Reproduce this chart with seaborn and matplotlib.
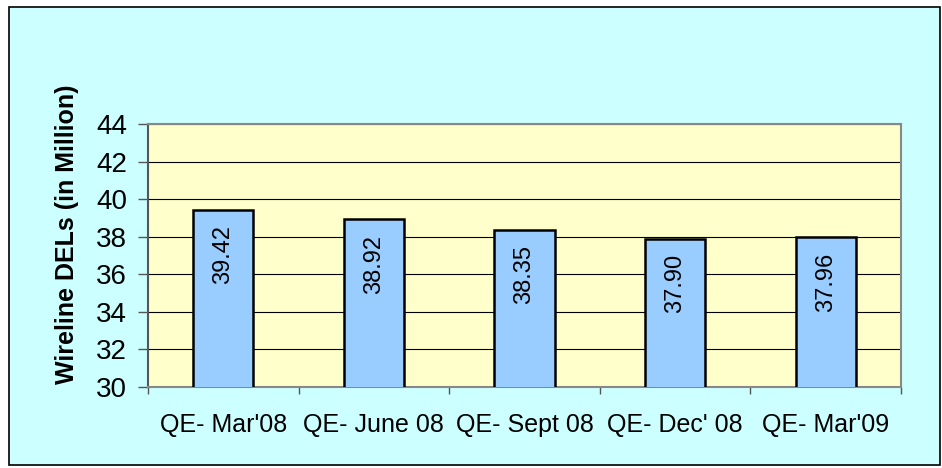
import matplotlib
matplotlib.use("Agg")
import matplotlib.pyplot as plt
from matplotlib.patches import Rectangle
import seaborn as sns
import pandas as pd

# data
quarters = ["QE- Mar'08", "QE- June 08", "QE- Sept 08", "QE- Dec' 08", "QE- Mar'09"]
dels = [39.42, 38.92, 38.35, 37.90, 37.96]
y_ticks = [30, 32, 34, 36, 38, 40, 42, 44]

df = pd.DataFrame({"quarter": quarters, "dels": dels})

sns.set_style("white")
plt.rcParams["font.family"] = ["Liberation Sans", "DejaVu Sans"]
plt.rcParams["text.color"] = "black"
plt.rcParams["axes.labelcolor"] = "black"
plt.rcParams["xtick.color"] = "black"
plt.rcParams["ytick.color"] = "black"

fig = plt.figure(figsize=(9.42, 4.68), dpi=100, facecolor="white")

# outer cyan frame with black border (drawn behind the axes)
fig.patches.append(Rectangle((9 / 942, 3 / 468), 931 / 942, 458 / 468,
                             transform=fig.transFigure, facecolor="#CCFFFF",
                             edgecolor="black", linewidth=1.2, zorder=-5))

ax = fig.add_axes([148 / 942, 1 - 387 / 468, 753 / 942, 263 / 468])
ax.set_facecolor("#FFFFCC")

sns.barplot(data=df, x="quarter", y="dels", ax=ax, width=0.4,
            color="#99CCFF", edgecolor="black", linewidth=1.8,
            saturation=1, zorder=3)

ax.set_ylim(30, 44)
ax.set_yticks(y_ticks)
ax.set_xlim(-0.5, len(quarters) - 0.5)
ax.yaxis.grid(True, color="black", linewidth=0.8, zorder=1)
ax.set_axisbelow(True)

# value labels rotated inside bars
for i, v in enumerate(dels):
    ax.annotate(f"{v:.2f}", xy=(i, v), xytext=(0, -11), textcoords="offset points",
                ha="center", va="top", rotation=90, fontsize=17, color="black", zorder=4)

# x ticks sit between categories
ax.set_xticks([i - 0.5 for i in range(len(quarters) + 1)], minor=False)
ax.set_xticklabels([])
ax.set_xticks(range(len(quarters)), minor=True)
ax.set_xticklabels(quarters, minor=True, fontsize=18)
ax.tick_params(axis="x", which="major", direction="out", length=5, width=1,
               color="#555555", bottom=True)
ax.tick_params(axis="x", which="minor", length=0, pad=19, labelcolor="black")
ax.tick_params(axis="y", direction="out", length=7, width=1, color="#555555",
               labelsize=20, pad=8, left=True, labelcolor="black")

for side in ["top", "right", "bottom"]:
    ax.spines[side].set_color("#888888")
    ax.spines[side].set_linewidth(1.5)
ax.spines["left"].set_color("#555555")
ax.spines["left"].set_linewidth(1.5)

ax.set_xlabel("")
ax.set_ylabel("Wireline DELs (in Million)", fontsize=18, fontweight="bold", color="black")
ax.yaxis.set_label_coords(-0.092, 0.58)

fig.savefig("out.png", dpi=100, facecolor="white")
